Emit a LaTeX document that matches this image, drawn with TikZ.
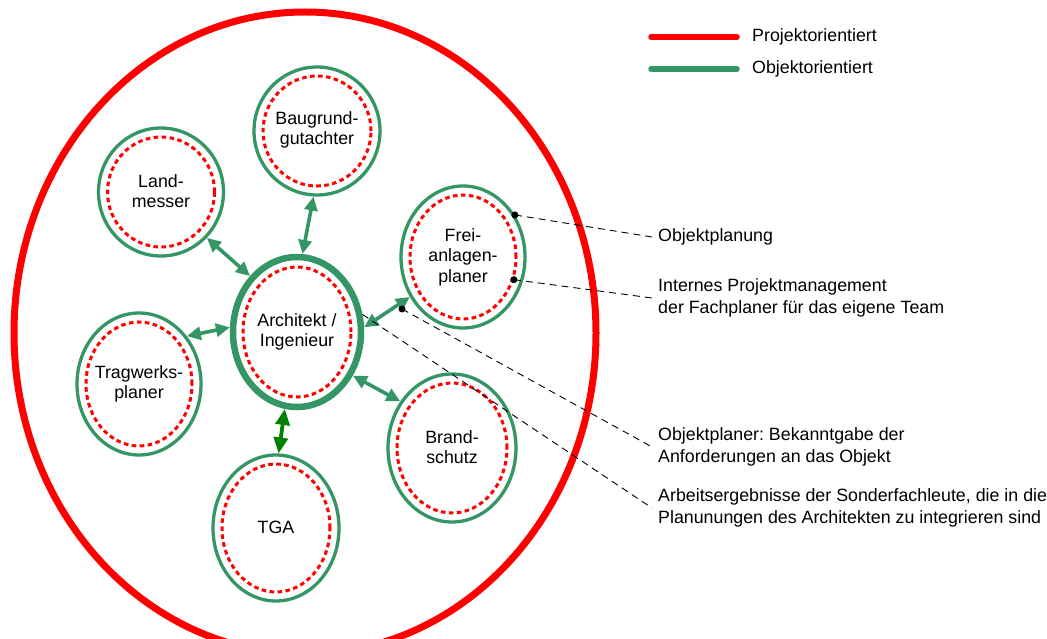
\documentclass[tikz,border=0pt]{standalone}
\usepackage{fontspec}
\setmainfont{Liberation Sans}
\frenchspacing
\usetikzlibrary{shapes.geometric,arrows.meta}
\definecolor{og}{RGB}{52,150,100}
\definecolor{dg}{RGB}{0,128,0}
\definecolor{pr}{RGB}{255,0,0}
\tikzset{
  txt/.style={font=\fontsize{17.8}{20.5}\selectfont, align=center, inner sep=0pt},
  lbl/.style={font=\fontsize{17.8}{21.5}\selectfont, align=left, anchor=west, inner sep=0pt},
  outer/.style={ellipse, draw=og, line width=3.3pt, inner sep=0pt},
  inner/.style={ellipse, draw=pr, line width=3pt, dash pattern=on 4.6pt off 3.4pt, inner sep=0pt},
  arr/.style={og, line width=3.6pt, {Triangle[length=14pt,width=13pt]}-{Triangle[length=14pt,width=13pt]}},
  arrd/.style={dg, line width=3.8pt, {Triangle[length=16pt,width=14pt]}-{Triangle[length=16pt,width=14pt]}},
  lead/.style={black, line width=0.9pt, dash pattern=on 7pt off 5pt},
  dot/.style={circle, fill=black, inner sep=0pt, minimum size=7pt},
  legline/.style={line width=5.5pt, line cap=round}
}
\begin{document}
\begin{tikzpicture}[x=1pt,y=-1pt]
\useasboundingbox (0,0) rectangle (1047,639);
\clip (0,0) rectangle (1047,639);
\fill[white] (0,0) rectangle (1047,639);
% big project ellipse
\draw[pr, line width=7pt] (305,333) ellipse [x radius=291, y radius=321];
% legend
\coordinate (l1a) at (651,37); \coordinate (l1b) at (737,37);
\coordinate (l2a) at (651,69); \coordinate (l2b) at (737,69);
\draw[legline, pr] (l1a) -- (l1b);
\draw[legline, og] (l2a) -- (l2b);
\node[lbl] (leg1) at (752,37) {Projektorientiert};
\node[lbl] (leg2) at (752,69) {Objektorientiert};
% inner dashed ellipses
\node[inner, minimum width=108pt, minimum height=110pt] (baugin) at (317,131) {};
\node[inner, minimum width=107pt, minimum height=110pt] (landin) at (161,192) {};
\node[inner, minimum width=106pt, minimum height=124pt] (freiin) at (463,257) {};
\node[inner, minimum width=106pt, minimum height=124pt] (tragin) at (139,384) {};
\node[inner, minimum width=110pt, minimum height=130pt] (brandin) at (452,448) {};
\node[inner, minimum width=108pt, minimum height=128pt] (tgain) at (276,528) {};
\node[inner, minimum width=108pt, minimum height=130pt] (archin) at (297,332) {};
% outer ellipses
\node[outer, minimum width=126pt, minimum height=128pt] (baug) at (317,131) {};
\node[outer, minimum width=125pt, minimum height=128pt] (land) at (161,192) {};
\node[outer, minimum width=124pt, minimum height=142pt] (frei) at (463,257) {};
\node[outer, minimum width=124pt, minimum height=142pt] (trag) at (139,384) {};
\node[outer, minimum width=128pt, minimum height=148pt] (brand) at (452,448) {};
\node[outer, minimum width=126pt, minimum height=146pt] (tga) at (276,528) {};
\node[outer, line width=6.5pt, minimum width=128pt, minimum height=150pt] (arch) at (297,332) {};
% texts
\node[txt] (tbaug) at (317,130) {Baugrund-\\gutachter};
\node[txt] (tland) at (161,191) {Land-\\messer};
\node[txt] (tfrei) at (463,257) {Frei-\\anlagen-\\planer};
\node[txt] (ttrag) at (139,384) {Tragwerks-\\planer};
\node[txt] (tbrand) at (452,447) {Brand-\\schutz};
\node[txt] (ttga) at (276,527) {TGA};
\node[txt] (tarch) at (297,332) {Architekt /\\Ingenieur};
% arrows
\draw[arr] (land.-45) -- (arch.130);
\draw[arr] (baug.-93) -- (arch.86);
\draw[arr] (trag.45) -- (arch.176);
\draw[arr] (frei.217) -- (arch.4);
\draw[arr] (brand.138) -- (arch.-38);
\draw[arrd] (tga.88) -- (arch.-99);
% annotation labels
\node[lbl] (a1) at (658,237) {Objektplanung};
\node[lbl] (a2) at (658,298) {Internes Projektmanagement\\der Fachplaner für das eigene Team};
\node[lbl] (a3) at (658,447) {Objektplaner: Bekanntgabe der\\Anforderungen an das Objekt};
\node[lbl] (a4) at (658,508) {Arbeitsergebnisse der Sonderfachleute, die in die\\Planunungen des Architekten zu integrieren sind};
% leaders
\coordinate (d3) at (402,309);
\draw[lead] (frei.39.5) -- ([xshift=-6pt]a1.west);
\draw[lead] (freiin.-24) -- ([xshift=-6pt]a2.west);
\draw[lead] (d3) -- ([xshift=-6pt]a3.west);
\draw[lead] (arch.15) -- ([xshift=-6pt]a4.west);
\node[dot] (p1) at (frei.39.5) {};
\node[dot] (p2) at (freiin.-24) {};
\node[dot] (p3) at (d3) {};
\end{tikzpicture}
\end{document}
